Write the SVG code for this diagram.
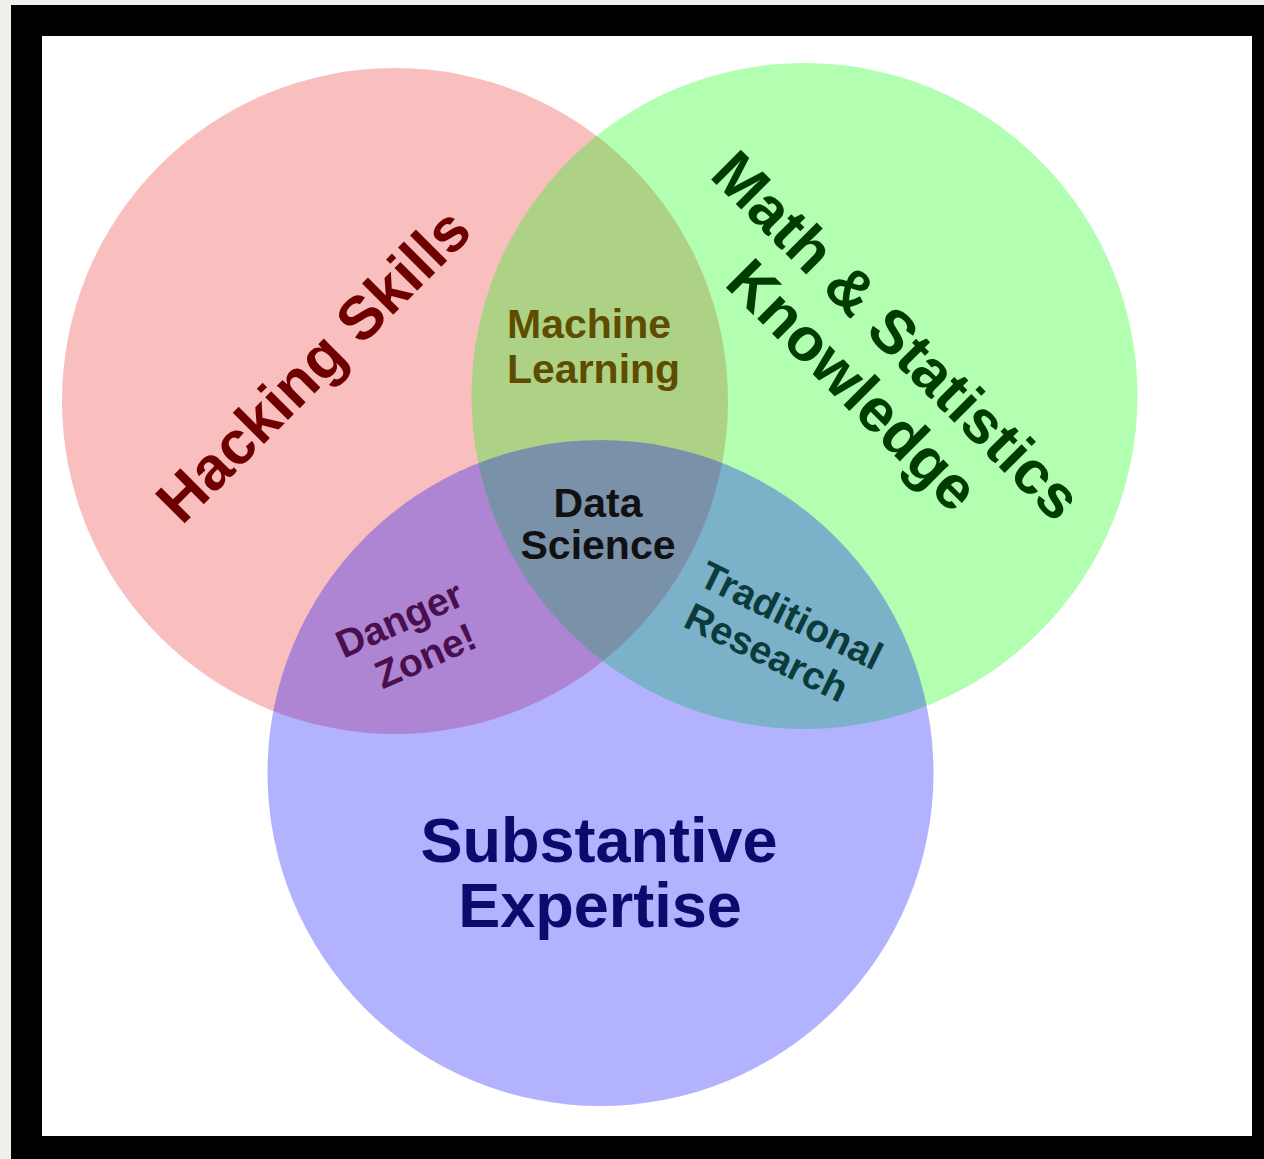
<svg xmlns="http://www.w3.org/2000/svg" width="1264" height="1159" viewBox="0 0 1264 1159">
  <style>
    text { font-family: "Liberation Sans", Arial, Helvetica, sans-serif; font-weight: bold; text-anchor: middle; }
    .big { font-size: 61px; }
    .mid { font-size: 41px; }
    .small { font-size: 39px; }
  </style>
  <rect x="0" y="0" width="1264" height="1159" fill="#f0efeb"/>
  <rect x="11" y="5" width="1253" height="1154" fill="#000000"/>
  <rect x="42" y="36" width="1210" height="1100" fill="#ffffff"/>

  <g id="hacking-skills">
    <circle cx="395" cy="401" r="333" fill="#e60000" fill-opacity="0.25"/>
    <text class="big" fill="#6e0000" transform="translate(328,380) rotate(-45)" x="0" y="0">Hacking Skills</text>
  </g>

  <g id="math-statistics">
    <circle cx="804.5" cy="396" r="333" fill="#00ff00" fill-opacity="0.3"/>
    <g transform="translate(860,375) rotate(45)" fill="#003b00">
      <text class="big" x="-2" y="-33">Math &amp; Statistics</text>
      <text class="big" x="2" y="33">Knowledge</text>
    </g>
  </g>

  <g id="substantive-expertise">
    <circle cx="600.5" cy="773" r="333" fill="#0000ff" fill-opacity="0.3"/>
    <text x="599" y="862" font-size="63" fill="#0b0b6e">Substantive</text>
    <text x="600" y="927" font-size="63" fill="#0b0b6e">Expertise</text>
  </g>

  <g id="machine-learning">
    <text class="mid" x="507" y="338" fill="#5e4d00" style="text-anchor:start">Machine</text>
    <text class="mid" x="507" y="383" fill="#5e4d00" style="text-anchor:start">Learning</text>
  </g>

  <g id="data-science">
    <text class="mid" x="598" y="517" fill="#111111">Data</text>
    <text class="mid" x="598" y="559" fill="#111111">Science</text>
  </g>

  <g id="danger-zone" transform="translate(417,649) rotate(-24)" fill="#4a0f4e">
    <text class="small" x="-4" y="-21">Danger</text>
    <text class="small" x="5" y="23">Zone!</text>
  </g>

  <g id="traditional-research" transform="translate(773,646) rotate(26)" fill="#0c3b3b">
    <text class="small" x="3" y="-22">Traditional</text>
    <text class="small" x="-3" y="22">Research</text>
  </g>

  <g id="connectors"></g>
</svg>
